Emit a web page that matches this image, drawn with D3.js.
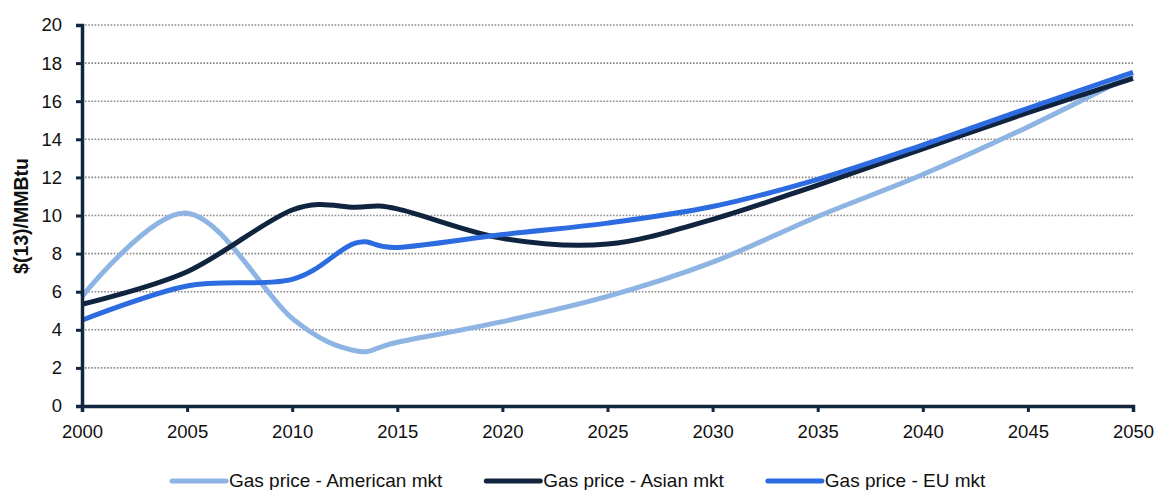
<!DOCTYPE html>
<html>
<head>
<meta charset="utf-8">
<script src="https://cdn.jsdelivr.net/npm/d3@7"></script>
<style>
  html, body { margin: 0; padding: 0; background: #ffffff; }
  svg { display: block; }
</style>
</head>
<body>
<svg id="chart" width="1156" height="490"></svg>
<script>
// ---- data ----
const years = [2000, 2005, 2010, 2013, 2015, 2020, 2025, 2030, 2035, 2040, 2045, 2050];
const americanMkt = [5.74, 10.12, 4.6, 2.9, 3.35, 4.43, 5.75, 7.55, 9.95, 12.15, 14.65, 17.4];
const asianMkt    = [5.34, 7.05, 10.29, 10.43, 10.35, 8.8, 8.5, 9.8, 11.6, 13.5, 15.4, 17.2];
const euMkt       = [4.5, 6.3, 6.65, 8.55, 8.32, 9.0, 9.6, 10.47, 11.9, 13.7, 15.63, 17.52];
const seriesNames = ["Gas price - American mkt", "Gas price - Asian mkt", "Gas price - EU mkt"];
const xTicks = [2000, 2005, 2010, 2015, 2020, 2025, 2030, 2035, 2040, 2045, 2050];
const yTicks = [0, 2, 4, 6, 8, 10, 12, 14, 16, 18, 20];
const yTitle = "$(13)/MMBtu";

const colors = ["#8eb4e3", "#10243f", "#2d6be0"];
const seriesValues = [americanMkt, asianMkt, euMkt];

const svg = d3.select("#chart");
const font = "'Liberation Sans', Arial, sans-serif";
const axisColor = "#13263f";

const x = d3.scaleLinear().domain([2000, 2050]).range([82, 1133]);
const y = d3.scaleLinear().domain([0, 20]).range([406, 25]);

// gridlines
svg.append("g").selectAll("line")
  .data(yTicks.filter(d => d > 0))
  .join("line")
  .attr("x1", x(2000) + 3).attr("x2", x(2050))
  .attr("y1", d => y(d)).attr("y2", d => y(d))
  .attr("stroke", "#8a8a8a")
  .attr("stroke-width", 1.6)
  .attr("stroke-dasharray", "1.6,1.6");

// lines
const line = d3.line()
  .x(d => x(d[0]))
  .y(d => y(d[1]))
  .curve(d3.curveCardinal.tension(0));

seriesValues.forEach((vals, i) => {
  svg.append("path")
    .datum(years.map((yr, j) => [yr, vals[j]]))
    .attr("fill", "none")
    .attr("stroke", colors[i])
    .attr("stroke-width", 5)
    .attr("stroke-linejoin", "round")
    .attr("stroke-linecap", "butt")
    .attr("d", line);
});

// y axis
const yAxis = d3.axisLeft(y).tickValues(yTicks).tickSize(6).tickPadding(14).tickFormat(d3.format("d"));
const gy = svg.append("g").attr("transform", `translate(${x(2000)},0)`).call(yAxis);
gy.select(".domain").attr("stroke", axisColor).attr("stroke-width", 3.5);
gy.selectAll(".tick line").attr("stroke", axisColor).attr("stroke-width", 3);
gy.selectAll(".tick text").attr("font-family", font).attr("font-size", 18.5).attr("fill", "#111");

// x axis
const xAxis = d3.axisBottom(x).tickValues(xTicks).tickSize(6).tickPadding(13).tickFormat(d3.format("d"));
const gx = svg.append("g").attr("transform", `translate(0,${y(0)})`).call(xAxis);
gx.select(".domain").attr("stroke", axisColor).attr("stroke-width", 3.5);
gx.selectAll(".tick line").attr("stroke", axisColor).attr("stroke-width", 3);
gx.selectAll(".tick text").attr("font-family", font).attr("font-size", 18.5).attr("fill", "#111");

// y title
svg.append("text")
  .attr("transform", `translate(28,216) rotate(-90)`)
  .attr("text-anchor", "middle")
  .attr("font-family", font)
  .attr("font-weight", "bold")
  .attr("font-size", 19.5)
  .attr("fill", "#111")
  .text(yTitle);

// legend
const legend = svg.append("g");
let lx = 172;
const ly = 481;
seriesNames.forEach((name, i) => {
  legend.append("line")
    .attr("x1", lx).attr("x2", lx + 54)
    .attr("y1", ly).attr("y2", ly)
    .attr("stroke", colors[i]).attr("stroke-width", 5)
    .attr("stroke-linecap", "round");
  const t = legend.append("text")
    .attr("x", lx + 57).attr("y", ly + 5.5)
    .attr("font-family", font).attr("font-size", 19)
    .attr("fill", "#111")
    .text(name);
  const w = t.node().getComputedTextLength();
  lx = lx + 57 + w + 44;
});
</script>
</body>
</html>
